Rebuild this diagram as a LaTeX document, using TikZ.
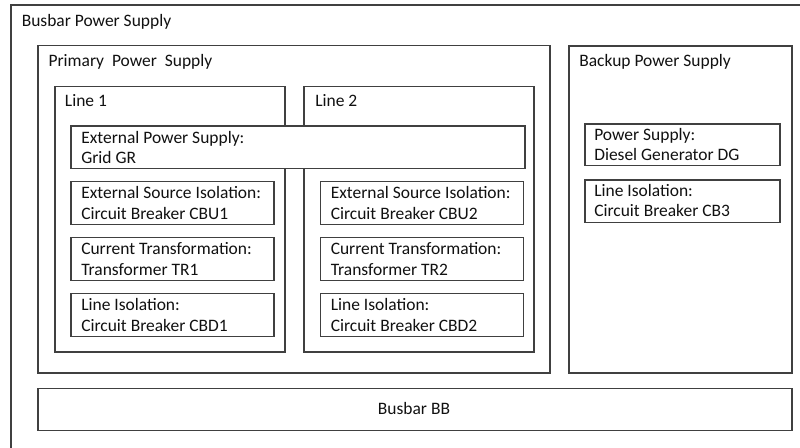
\documentclass[tikz,border=0pt]{standalone}
\usepackage{fontspec}
\setmainfont{Carlito}
\usetikzlibrary{fit}
\definecolor{edge}{HTML}{404040}
\definecolor{ink}{HTML}{111111}
\tikzset{
  boxst/.style={draw=edge, line width=1pt, fill=white, inner sep=0pt, outer sep=0pt},
  lbl/.style={anchor=base west, inner sep=0pt, text=ink, font=\fontsize{13.1}{15}\selectfont},
}
\newcommand\twoline[5]{%
  \node[lbl] (#1a) at (#2,#3) {#4};
  \node[lbl] (#1b) at (#2,#3+20.5) {#5};}
\begin{document}
\begin{tikzpicture}[x=0.75pt,y=-0.75pt]
\useasboundingbox (0,0) rectangle (800,448);
\clip (0,0) rectangle (800,448);
\fill[white] (0,0) rectangle (800,448);
% outer
\node[boxst, fit={(11,5) (806,456)}] (outer) {};
\node[lbl] (touter) at (21.5,26.7) {Busbar Power Supply};
% primary
\node[boxst, fit={(38,45.5) (550,373)}] (primary) {};
\node[lbl] (tprimary) at (48.3,66.7) {Primary~~Power~~Supply};
% backup
\node[boxst, fit={(569,46) (792,373)}] (backup) {};
\node[lbl] (tbackup) at (579,67) {Backup Power Supply};
% lines
\node[boxst, fit={(55,86.5) (285,352)}] (line1) {};
\node[lbl] (tline1) at (64.7,107) {Line 1};
\node[boxst, fit={(304,86.5) (534,352)}] (line2) {};
\node[lbl] (tline2) at (315,107) {Line 2};
% external grid
\node[boxst, fit={(71,126) (525,168.3)}] (ext) {};
\twoline{text}{81}{143.3}{External Power Supply:}{Grid GR}
% line 1 components
\node[boxst, fit={(71,181.5) (274,224.3)}] (cbu1) {};
\twoline{tcbu1}{81}{198.8}{External Source Isolation:}{Circuit Breaker CBU1}
\node[boxst, fit={(71,237.7) (274,280.7)}] (tr1) {};
\twoline{ttr1}{81}{255}{Current Transformation:}{Transformer TR1}
\node[boxst, fit={(71,293.7) (274,336.3)}] (cbd1) {};
\twoline{tcbd1}{81}{311}{Line Isolation:}{Circuit Breaker CBD1}
% line 2 components
\node[boxst, fit={(320.7,181.5) (523.7,224.3)}] (cbu2) {};
\twoline{tcbu2}{330.5}{198.8}{External Source Isolation:}{Circuit Breaker CBU2}
\node[boxst, fit={(320.7,237.7) (523.7,280.7)}] (tr2) {};
\twoline{ttr2}{330.5}{255}{Current Transformation:}{Transformer TR2}
\node[boxst, fit={(320.7,293.7) (523.7,336.3)}] (cbd2) {};
\twoline{tcbd2}{330.5}{311}{Line Isolation:}{Circuit Breaker CBD2}
% backup components
\node[boxst, fit={(585,124) (780,165.7)}] (dg) {};
\twoline{tdg}{594}{140.5}{Power Supply:}{Diesel Generator DG}
\node[boxst, fit={(585,180) (780,222.7)}] (cb3) {};
\twoline{tcb3}{594}{196.5}{Line Isolation:}{Circuit Breaker CB3}
% busbar
\node[boxst, fit={(38,388.3) (792,430.7)}] (bb) {};
\node[lbl, anchor=base] (tbb) at (414,415) {Busbar BB};
\end{tikzpicture}
\end{document}
